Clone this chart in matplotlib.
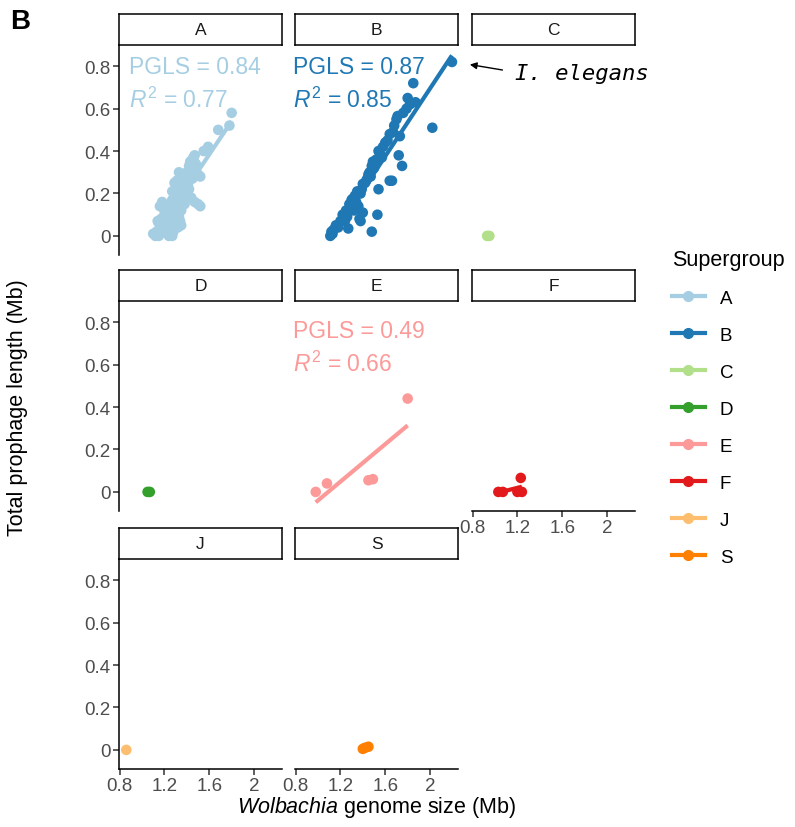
import numpy as np
import matplotlib
matplotlib.use("Agg")
import matplotlib.pyplot as plt
from matplotlib.lines import Line2D

plt.rcParams['font.family'] = ['Liberation Sans', 'DejaVu Sans']
plt.rcParams['mathtext.fontset'] = 'custom'
plt.rcParams['mathtext.rm'] = 'Liberation Sans'
plt.rcParams['mathtext.it'] = 'Liberation Sans:italic'

# data: genome size (Mb) vs total prophage length (Mb)
groups = ['A', 'B', 'C', 'D', 'E', 'F', 'J', 'S']
colors = ['#A6CEE3', '#1F78B4', '#B2DF8A', '#33A02C', '#FB9A99', '#E31A1C', '#FDBF6F', '#FF7F00']

a_x = [1.10, 1.12, 1.13, 1.14, 1.15, 1.16, 1.14, 1.15, 1.17, 1.18, 1.19, 1.20, 1.21, 1.22, 1.23,
       1.24, 1.26, 1.27, 1.28, 1.29, 1.30, 1.25, 1.26, 1.27, 1.28, 1.30, 1.31, 1.32, 1.33, 1.34,
       1.35, 1.36, 1.36, 1.37, 1.38, 1.39, 1.40, 1.41, 1.42, 1.43, 1.44, 1.45, 1.46, 1.47, 1.48,
       1.50, 1.52, 1.44, 1.47, 1.50, 1.52, 1.40, 1.38, 1.35, 1.32, 1.20, 1.22, 1.42, 1.55, 1.59,
       1.68, 1.78, 1.80, 1.29, 1.31, 1.33, 1.16, 1.24, 1.37, 1.45, 1.41, 1.39, 1.34, 1.27, 1.18]
a_y = [0.01, 0.00, 0.02, 0.01, 0.00, 0.03, 0.07, 0.06, 0.08, 0.04, 0.13, 0.10, 0.12, 0.06, 0.03,
       0.00, 0.01, 0.00, 0.02, 0.05, 0.07, 0.15, 0.13, 0.17, 0.10, 0.16, 0.20, 0.14, 0.09, 0.07,
       0.12, 0.19, 0.24, 0.26, 0.22, 0.25, 0.30, 0.27, 0.33, 0.35, 0.31, 0.36, 0.37, 0.38, 0.34,
       0.29, 0.28, 0.18, 0.16, 0.15, 0.14, 0.20, 0.15, 0.05, 0.04, 0.02, 0.09, 0.22, 0.40, 0.42,
       0.50, 0.52, 0.58, 0.25, 0.26, 0.30, 0.14, 0.11, 0.21, 0.27, 0.24, 0.18, 0.22, 0.21, 0.16]

b_x = [1.11, 1.12, 1.13, 1.14, 1.16, 1.18, 1.20, 1.22, 1.24, 1.25, 1.27, 1.28, 1.29, 1.30, 1.31,
       1.32, 1.33, 1.34, 1.35, 1.36, 1.37, 1.38, 1.39, 1.40, 1.40, 1.42, 1.44, 1.46, 1.47, 1.48,
       1.48, 1.49, 1.50, 1.52, 1.53, 1.54, 1.54, 1.56, 1.58, 1.60, 1.62, 1.64, 1.64, 1.66, 1.67,
       1.70, 1.71, 1.72, 1.73, 1.75, 1.76, 1.79, 1.80, 1.82, 1.85, 1.87, 2.02, 2.195, 1.45, 1.38,
       1.26, 1.43, 1.57, 1.68]
b_y = [0.00, 0.02, 0.01, 0.03, 0.05, 0.04, 0.07, 0.10, 0.07, 0.12, 0.035, 0.15, 0.13, 0.17, 0.175,
       0.12, 0.19, 0.16, 0.21, 0.14, 0.08, 0.07, 0.22, 0.245, 0.11, 0.25, 0.27, 0.30, 0.28, 0.02,
       0.33, 0.35, 0.32, 0.36, 0.10, 0.40, 0.22, 0.38, 0.42, 0.44, 0.45, 0.48, 0.26, 0.26, 0.49,
       0.55, 0.565, 0.38, 0.47, 0.33, 0.58, 0.60, 0.65, 0.62, 0.72, 0.63, 0.51, 0.82, 0.29, 0.20,
       0.09, 0.26, 0.37, 0.52]

c_x = [0.93, 0.95]
c_y = [0.0, 0.0]
d_x = [1.05, 1.07]
d_y = [0.0, 0.0]
e_x = [0.98, 1.08, 1.45, 1.49, 1.80]
e_y = [0.0, 0.04, 0.055, 0.06, 0.44]
f_x = [1.03, 1.07, 1.20, 1.23, 1.24]
f_y = [0.0, 0.0, 0.0, 0.066, 0.0]
j_x = [0.86]
j_y = [0.0]
s_x = [1.40, 1.42, 1.45]
s_y = [0.005, 0.01, 0.015]

xs = [a_x, b_x, c_x, d_x, e_x, f_x, j_x, s_x]
ys = [a_y, b_y, c_y, d_y, e_y, f_y, j_y, s_y]
with_fit = ['A', 'B', 'E', 'F']
stats = {'A': ('0.84', '0.77'), 'B': ('0.87', '0.85'), 'E': ('0.49', '0.66')}

x_ticks = [0.8, 1.2, 1.6, 2.0]
x_labels = ['0.8', '1.2', '1.6', '2']
y_ticks = [0, 0.2, 0.4, 0.6, 0.8]
y_labels = ['0', '0.2', '0.4', '0.6', '0.8']

W, H = 795, 828
fig = plt.figure(figsize=(W / 100, H / 100), dpi=100)

def px_axes(l, t, r, b):
    return fig.add_axes([l / W, 1 - b / H, (r - l) / W, (b - t) / H])

cols = [(119, 282), (295, 458), (472, 635)]
rows = [(46, 256), (302, 512), (560, 770)]
pos = {'A': (0, 0), 'B': (0, 1), 'C': (0, 2), 'D': (1, 0), 'E': (1, 1),
       'F': (1, 2), 'J': (2, 0), 'S': (2, 1)}
x_axis_on = ['F', 'J', 'S']
txt_grey = '#4D4D4D'

axes = {}
for g, col, gx, gy in zip(groups, colors, xs, ys):
    r, c = pos[g]
    l, rr = cols[c]
    t, b = rows[r]
    ax = px_axes(l, t, rr, b)
    axes[g] = ax
    ax.set_xlim(0.795, 2.249)
    ax.set_ylim(-0.09, 0.9)
    for s in ['top', 'right']:
        ax.spines[s].set_visible(False)
    ax.spines['left'].set_linewidth(1.1)
    ax.spines['bottom'].set_linewidth(1.1)
    ax.set_xticks(x_ticks)
    ax.set_yticks(y_ticks)
    ax.tick_params(length=4, width=1.1, color='#333333', labelsize=13.5, labelcolor=txt_grey, pad=2)
    if g in x_axis_on:
        ax.set_xticklabels(x_labels)
    else:
        ax.spines['bottom'].set_visible(False)
        ax.tick_params(axis='x', length=0, labelbottom=False)
    if c == 0:
        ax.set_yticklabels(y_labels)
    else:
        ax.spines['left'].set_visible(False)
        ax.tick_params(axis='y', length=0, labelleft=False)
    ax.patch.set_alpha(0)

    if g in with_fit:
        k, m = np.polyfit(gx, gy, 1)
        lx = np.array([min(gx), max(gx)])
        ax.plot(lx, k * lx + m, color=col, lw=3, solid_capstyle='butt', zorder=2)
    ax.scatter(gx, gy, s=58, color=col, edgecolors='none', zorder=3)

    if g in stats:
        pg, r2 = stats[g]
        tx = 0.88 if g == 'A' else 0.78
        ty = 0.80 if g != 'E' else 0.76
        ax.text(tx, ty, 'PGLS = ' + pg, color=col, fontsize=16.5, va='center', ha='left')
        ax.text(tx, ty - 0.155, r'$R^2$ = ' + r2, color=col, fontsize=16.5, va='center', ha='left')

    # strip
    st = px_axes(l, t - 31, rr, t)
    st.set_xticks([])
    st.set_yticks([])
    for s in st.spines.values():
        s.set_linewidth(1.1)
        s.set_color('black')
    st.text(0.5, 0.5, g, ha='center', va='center', fontsize=12.5, color='#1A1A1A')

axes['B'].annotate('', xy=(2.33, 0.81), xytext=(2.67, 0.78),
                   arrowprops=dict(arrowstyle='-|>', color='black', lw=1.0, mutation_scale=10),
                   annotation_clip=False)
axes['B'].text(2.76, 0.77, 'I. elegans', fontsize=16, family='DejaVu Sans Mono',
               style='italic', va='center', ha='left', clip_on=False)

fig.text(18 / W, 1 - 408 / H, 'Total prophage length (Mb)', rotation=90,
         ha='center', va='center', fontsize=15.5)
fig.text(377 / W, 1 - 808 / H, r'$\it{Wolbachia}$ genome size (Mb)',
         ha='center', va='center', fontsize=15.5)
fig.text(10 / W, 1 - 22 / H, 'B', fontsize=20, fontweight='bold', ha='left', va='center')

handles = [Line2D([], [], color=cc, lw=3, marker='o', markersize=7) for cc in colors]
fig.legend(handles, groups, title='Supergroup', loc='upper left',
           bbox_to_anchor=(655 / W, 1 - 233 / H), frameon=False, fontsize=13.5,
           title_fontsize=15.5, labelspacing=1.06, handlelength=1.75, handletextpad=0.8,
           alignment='left')

fig.savefig('out.png', dpi=100)
